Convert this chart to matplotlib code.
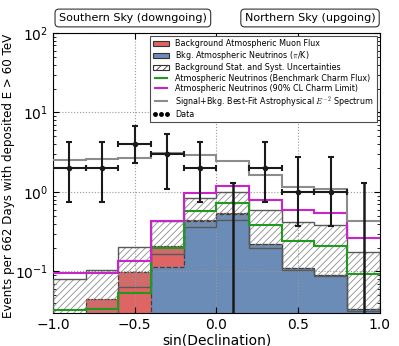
import numpy as np
import matplotlib
matplotlib.use("Agg")
import matplotlib.pyplot as plt
from matplotlib.patches import Patch
from matplotlib.lines import Line2D

plt.rcParams['font.family'] = ['DejaVu Sans']
plt.rcParams['mathtext.fontset'] = 'cm'
plt.rcParams['xtick.direction'] = 'in'
plt.rcParams['ytick.direction'] = 'in'
plt.rcParams['xtick.top'] = True
plt.rcParams['ytick.right'] = True
plt.rcParams['hatch.linewidth'] = 0.6

# binning in sin(declination)
edges = np.linspace(-1.0, 1.0, 11)
centers = 0.5 * (edges[:-1] + edges[1:])

# stacked background (blue at bottom, red muons on top)
bkg_conv_nu = [0.002, 0.003, 0.005, 0.114, 0.43, 0.535, 0.224, 0.111, 0.090, 0.034]
bkg_muon    = [0.015, 0.042, 0.094, 0.093, 0.01, 0.005, 0.0, 0.0, 0.0, 0.0]

# background uncertainty band
unc_low  = [0.012, 0.026, 0.064, 0.168, 0.36, 0.44, 0.200, 0.105, 0.087, 0.032]
unc_high = [0.080, 0.104, 0.204, 0.430, 0.83, 1.01, 0.600, 0.420, 0.380, 0.176]

charm_bench = [0.033, 0.034, 0.054, 0.20, 0.58, 0.72, 0.38, 0.24, 0.21, 0.094]
charm_limit = [0.096, 0.096, 0.136, 0.43, 0.96, 1.20, 0.79, 0.59, 0.54, 0.266]
best_fit    = [2.53, 2.58, 2.68, 3.10, 2.95, 2.46, 1.65, 1.14, 1.09, 0.43]

# data counts and asymmetric error bar extents
data_n    = [2, 2, 4, 3, 2, 0, 2, 1, 1, 0]
err_lo_at = [0.74, 0.74, 2.33, 1.10, 0.74, 0.0, 0.74, 0.37, 0.37, 0.0]
err_hi_at = [4.25, 4.25, 6.80, 5.40, 4.25, 1.29, 4.25, 2.75, 2.75, 1.29]

ymin, ymax = 0.03, 100.0

fig = plt.figure(figsize=(3.99, 3.46), dpi=100)
ax = fig.add_axes([0.133, 0.0954, 0.819, 0.8092])

blue = '#6a8cb7'
red = '#df6464'
conv = np.array(bkg_conv_nu)
tot = conv + np.array(bkg_muon)

ax.stairs(conv, edges, baseline=1e-4, fill=True, color=blue, zorder=1)
ax.stairs(tot, edges, baseline=conv, fill=True, color=red, zorder=1)
ax.stairs(tot, edges, baseline=conv, fill=False, color='0.25', lw=0.9, ls='--', zorder=2)

# hatched uncertainty band
ax.stairs(unc_high, edges, baseline=unc_low, fill=True, facecolor='none',
          edgecolor='0.55', lw=0, hatch='/////', zorder=3)
ax.stairs(unc_high, edges, baseline=unc_low, fill=False, color='0.35', lw=1.0, zorder=3)

ax.stairs(charm_bench, edges, baseline=None, color='#1f9a1f', lw=1.5, zorder=4)
ax.stairs(charm_limit, edges, baseline=None, color='#cc22cc', lw=1.5, zorder=4)
ax.stairs(best_fit, edges, baseline=None, color='0.55', lw=1.5, zorder=4)

# data
n = np.array(data_n, dtype=float)
has = n > 0
ax.errorbar(centers[has], n[has],
            yerr=[n[has] - np.array(err_lo_at)[has], np.array(err_hi_at)[has] - n[has]],
            xerr=0.1, fmt='o', color='0.1', ms=3, lw=1.5, capsize=2.5, capthick=1.5, zorder=6)
zero = ~has
ax.errorbar(centers[zero], np.full(zero.sum(), ymin * 0.5),
            yerr=[np.zeros(zero.sum()), np.array(err_hi_at)[zero] - ymin * 0.5],
            fmt='none', color='0.1', lw=1.8, capsize=2.5, capthick=1.5, zorder=6)

ax.set_yscale('log')
ax.set_xlim(-1, 1)
ax.set_ylim(ymin, ymax)
ax.set_xticks([-1.0, -0.5, 0.0, 0.5, 1.0])
ax.grid(True, which='major', ls=':', color='0.6', lw=0.8)
ax.tick_params(which='major', length=4, labelsize=10)
ax.tick_params(which='minor', length=2)
ax.set_xlabel('sin(Declination)', fontsize=10, labelpad=1)
ax.set_ylabel('Events per 662 Days with deposited E > 60 TeV', fontsize=8.6)
ax.yaxis.set_label_coords(-0.115, 0.49)

handles = [
    Patch(facecolor=red, edgecolor='0.2', lw=0.8),
    Patch(facecolor=blue, edgecolor='0.2', lw=0.8),
    Patch(facecolor='white', edgecolor='0.2', hatch='/////', lw=0.8),
    Line2D([], [], color='#1f9a1f', lw=1.5),
    Line2D([], [], color='#cc22cc', lw=1.5),
    Line2D([], [], color='0.55', lw=1.5),
    Line2D([], [], color='black', marker='o', ls='none', ms=2.5),
]
labels = [
    'Background Atmospheric Muon Flux',
    r'Bkg. Atmospheric Neutrinos ($\pi$/K)',
    'Background Stat. and Syst. Uncertainties',
    'Atmospheric Neutrinos (Benchmark Charm Flux)',
    'Atmospheric Neutrinos (90% CL Charm Limit)',
    r'Signal+Bkg. Best-Fit Astrophysical $E^{-2}$ Spectrum',
    'Data',
]
leg = ax.legend(handles, labels, loc='upper right', fontsize=5.8, numpoints=3,
                fancybox=False, framealpha=1, edgecolor='0.3', borderpad=0.35,
                labelspacing=0.15, handlelength=2.0, handletextpad=0.8,
                handleheight=0.6, borderaxespad=0.4)
leg.get_frame().set_linewidth(0.8)
leg.set_zorder(10)

box = dict(boxstyle='round,pad=0.35', facecolor='white', edgecolor='0.2', lw=0.8)
fig.text(0.333, 0.948, 'Southern Sky (downgoing)', ha='center', va='center', fontsize=8, bbox=box)
fig.text(0.777, 0.948, 'Northern Sky (upgoing)', ha='center', va='center', fontsize=8, bbox=box)

fig.savefig('out.png', dpi=100, facecolor='white')
